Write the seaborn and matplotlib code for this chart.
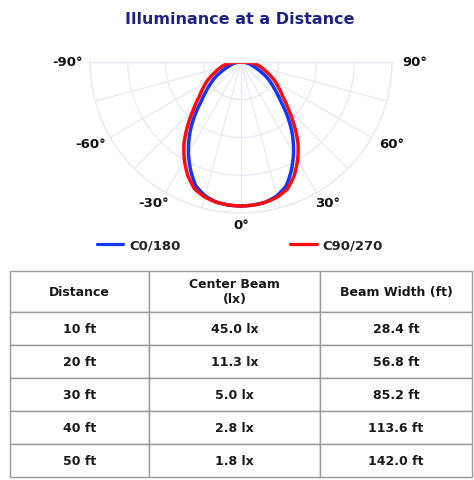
import numpy as np
import pandas as pd
import matplotlib
matplotlib.use("Agg")
import matplotlib.pyplot as plt
import seaborn as sns
from matplotlib.lines import Line2D

# ---------------- data ----------------
angles_half = [0, 5, 10, 15, 20, 25, 30, 35, 40, 45, 50, 55, 60, 65, 70, 75, 80, 85, 90]
c0_180 = [95.4, 95.1, 94.2, 91.8, 87.4, 79.0, 69.6, 59.6, 48.7, 37.6, 30.1, 24.4, 19.0, 13.6, 9.4, 6.8, 4.6, 2.3, 0.0]
c90_270 = [95.4, 95.1, 94.3, 92.6, 89.6, 83.2, 75.0, 65.8, 54.8, 44.6, 36.4, 30.9, 26.4, 21.6, 17.3, 14.0, 11.0, 6.5, 0.0]
series_names = ["C0/180", "C90/270"]
angle_labels = [-90, -60, -30, 0, 30, 60, 90]

table_header = ["Distance", "Center Beam\n(lx)", "Beam Width (ft)"]
distances = ["10 ft", "20 ft", "30 ft", "40 ft", "50 ft"]
center_beam = ["45.0 lx", "11.3 lx", "5.0 lx", "2.8 lx", "1.8 lx"]
beam_width = ["28.4 ft", "56.8 ft", "85.2 ft", "113.6 ft", "142.0 ft"]

title = "Illuminance at a Distance"

# ---------------- build symmetric curves ----------------
def full(vals):
    th = [-a for a in angles_half[::-1]] + angles_half[1:]
    rr = vals[::-1] + vals[1:]
    return th, rr

rows = []
for name, vals in zip(series_names, [c0_180, c90_270]):
    th, rr = full(vals)
    for t, r in zip(th, rr):
        rows.append({"theta": np.deg2rad(t), "r": r, "series": name})
df = pd.DataFrame(rows)

sns.set_theme(style="white")
plt.rcParams["font.family"] = ["DejaVu Sans"]

W, H = 474, 481
fig = plt.figure(figsize=(W / 100, H / 100), dpi=100)
fig.patch.set_facecolor("white")

cx, cy, R = 241, 63, 151
# square box; the half-disc is centred vertically inside it
bcy = cy + R / 2
ax = fig.add_axes([(cx - R) / W, (H - (bcy + R)) / H, 2 * R / W, 2 * R / H], projection="polar")
ax.set_theta_zero_location("S")
ax.set_theta_direction(1)
ax.set_thetamin(-90)
ax.set_thetamax(90)
ax.set_ylim(0, 100)
ax.patch.set_alpha(0)

gcol = "#e6e9f1"
ax.set_rgrids([25, 50, 75, 100], labels=[""] * 4)
ax.set_thetagrids(list(range(-90, 91, 15)), labels=[""] * 13)
ax.grid(True, color=gcol, lw=0.9)
for s in ax.spines.values():
    s.set_color(gcol)
    s.set_linewidth(0.9)
ax.tick_params(length=0)

palette = {"C0/180": "#1238ff", "C90/270": "#ff0d0d"}
sns.lineplot(data=df, x="theta", y="r", hue="series", palette=palette, sort=False,
             lw=2.5, ax=ax, legend=False)
for ln in ax.lines:
    ln.set_solid_joinstyle("round")
    ln.set_solid_capstyle("round")
    # draw each segment along the polar (theta, r) path rather than as a straight chord
    ln.recache(always=True)
    ln._path._interpolation_steps = 16
ax.set_xlabel("")
ax.set_ylabel("")

for a in angle_labels:
    t = np.deg2rad(a)
    ax.annotate(f"{a}°", xy=(t, 100), xytext=(16.5 * np.sin(t), -8.2 * np.cos(t)),
                textcoords="offset points", ha="center", va="center",
                fontsize=9.5, fontweight="bold", color="#111111", annotation_clip=False)

fig.text(240 / W, 1 - 19 / H, title, ha="center", va="center", fontsize=11.5,
         fontweight="bold", color="#1c2383")

handles = [Line2D([], [], color=palette[n], lw=2.3) for n in series_names]
leg = fig.legend(handles, series_names, loc="center", bbox_to_anchor=(240 / W, 1 - 246 / H),
                 ncol=2, frameon=False, handlelength=2.0, handletextpad=0.45,
                 columnspacing=8.3, prop={"weight": "bold", "size": 9.5})

# ---------------- table ----------------
tx0, tx1, ty0, ty1 = 10, 472, 272, 478
tax = fig.add_axes([tx0 / W, (H - ty1) / H, (tx1 - tx0) / W, (ty1 - ty0) / H])
tax.axis("off")
cell_text = [[d, c, b] for d, c, b in zip(distances, center_beam, beam_width)]
col_w = [139, 171, 152]
tbl = tax.table(cellText=cell_text, colLabels=table_header, cellLoc="center",
                colWidths=[w / sum(col_w) for w in col_w], bbox=[0, 0, 1, 1])
tbl.auto_set_font_size(False)
for (r, c), cell in tbl.get_celld().items():
    cell.set_edgecolor("#9a9a9a")
    cell.set_linewidth(1.0)
    cell.set_height(41 if r == 0 else 33)
    cell.get_text().set_fontsize(9)
    cell.get_text().set_fontweight("bold")
    cell.get_text().set_color("#1a1a1a")

fig.savefig("out.png", dpi=100, facecolor="white")
